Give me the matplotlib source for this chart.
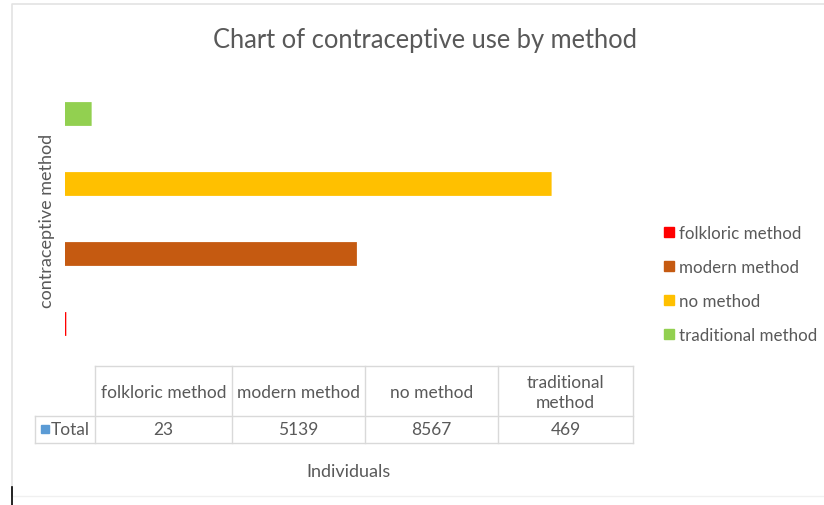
import matplotlib.pyplot as plt
from matplotlib.patches import Patch

methods = ["folkloric method", "modern method", "no method", "traditional method"]
table_heads = ["folkloric method", "modern method", "no method", "traditional\nmethod"]
totals = [23, 5139, 8567, 469]
colors = ["#ff0000", "#c55a11", "#ffc000", "#92d050"]

TXT = "#595959"
GRID = "#d9d9d9"
W, H = 824, 506

plt.rcParams['font.family'] = ['Lato', 'DejaVu Sans']

fig = plt.figure(figsize=(W / 100, H / 100), dpi=100)

# overlay in pixel coords for border, title, table and labels
ov = fig.add_axes([0, 0, 1, 1])
ov.set_xlim(0, W)
ov.set_ylim(H, 0)
ov.set_axis_off()

ov.plot([12, 12, W], [497, 5, 5], color="#e3e3e3", lw=1.2)
ov.plot([12, W], [497, 497], color="#f0f0f0", lw=1.0)
ov.plot([12, 12], [488, 506], color="black", lw=1.2)

ov.text(425, 40, "Chart of contraceptive use by method", ha="center", va="center",
        fontsize=18.4, color=TXT)
ov.text(47, 221, "contraceptive method", rotation=90, ha="center", va="center",
        fontsize=13, color=TXT)
ov.text(349, 472, "Individuals", ha="center", va="center", fontsize=13, color=TXT)

# bar chart
ax = fig.add_axes([65 / W, 1 - 360 / H, (633 - 65) / W, (360 - 80) / H])
bars = ax.barh(range(len(methods)), totals, height=0.34, color=colors, linewidth=0)
for b in bars:
    b.set_snap(False)
ax.set_xlim(0, 10000)
ax.set_ylim(-0.5, len(methods) - 0.5)
ax.set_axis_off()

# data table
cols = [95, 232, 365, 498, 633]
ov.plot([95, 633], [367, 367], color=GRID, lw=1)
ov.plot([35, 633], [417, 417], color=GRID, lw=1)
ov.plot([35, 633], [444, 444], color=GRID, lw=1)
ov.plot([35, 35], [417, 444], color=GRID, lw=1)
for x in cols:
    ov.plot([x, x], [367, 444], color=GRID, lw=1)
for i, (head, val) in enumerate(zip(table_heads, totals)):
    cx = (cols[i] + cols[i + 1]) / 2
    ov.text(cx, 393, head, ha="center", va="center", fontsize=12.5, color=TXT,
            linespacing=1.3)
    ov.text(cx, 430, str(val), ha="center", va="center", fontsize=12.5, color=TXT)
ov.add_patch(plt.Rectangle((41, 426), 8, 8, color="#5b9bd5"))
ov.text(51, 430, "Total", ha="left", va="center", fontsize=12.5, color=TXT)

# legend
handles = [Patch(color=c, label=m) for c, m in zip(colors, methods)]
leg = fig.legend(handles=handles, loc="upper left", bbox_to_anchor=(649 / W, 1 - 211 / H),
                 frameon=False, fontsize=12.2, handlelength=0.55, handleheight=0.55,
                 handletextpad=0.3, labelspacing=1.05)
for t in leg.get_texts():
    t.set_color(TXT)

fig.savefig("out.png", dpi=100)
